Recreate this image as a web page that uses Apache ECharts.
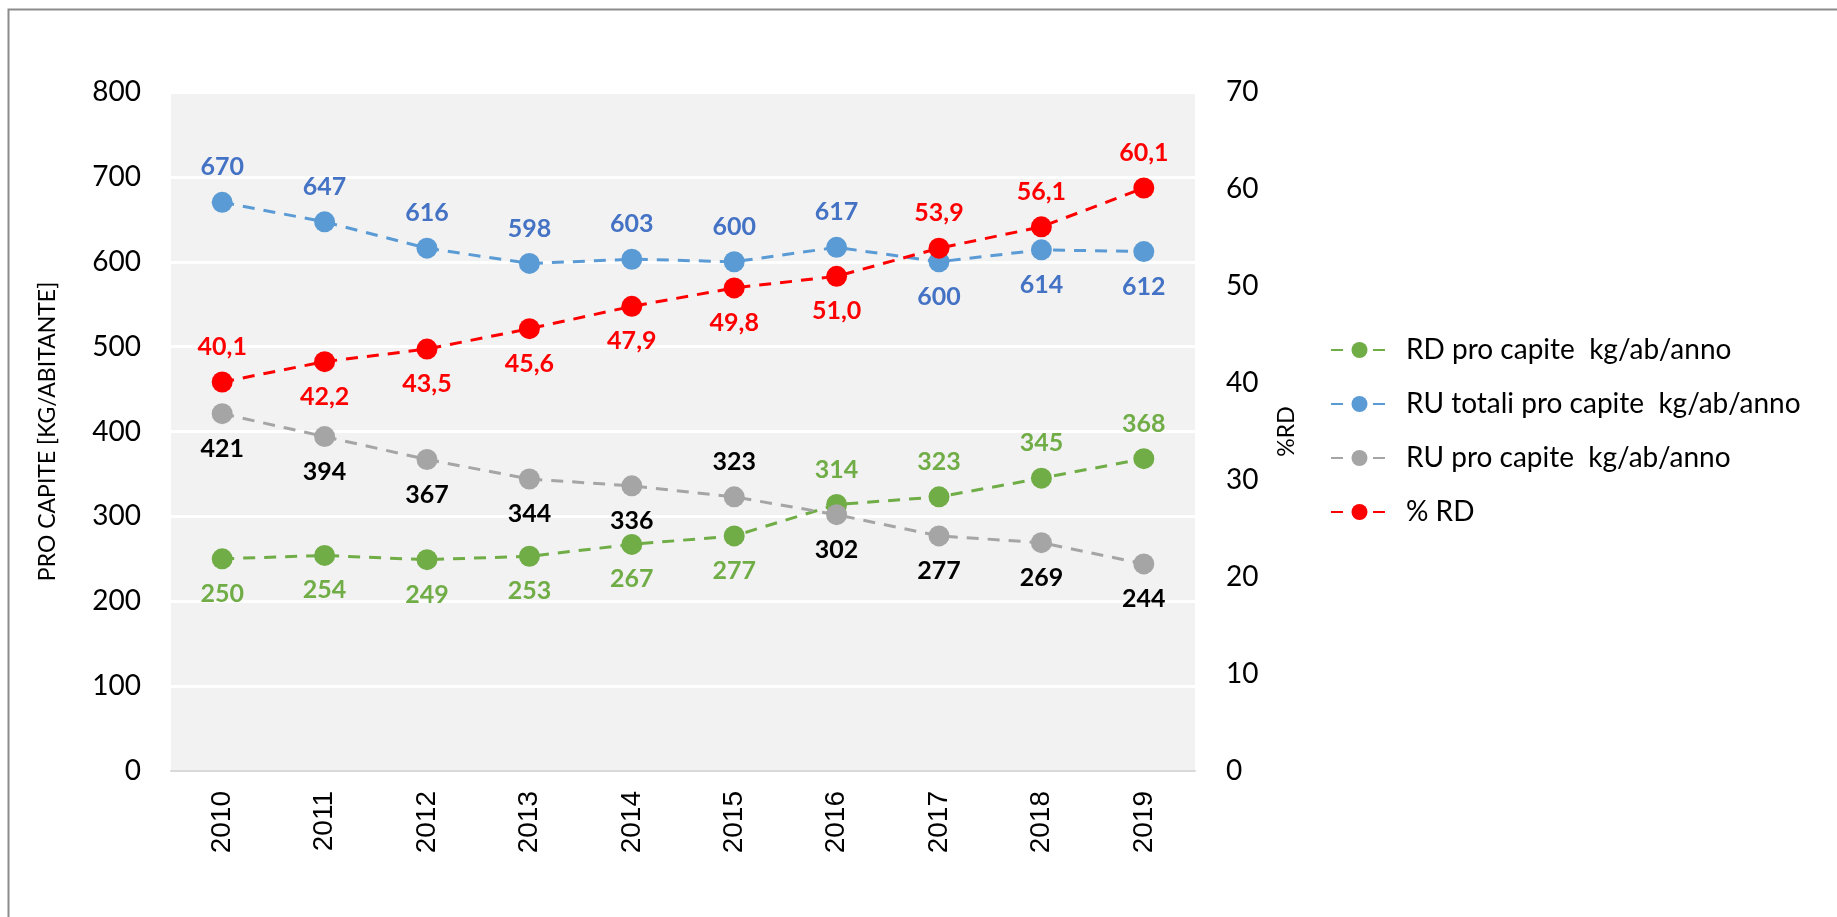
<!DOCTYPE html>
<html><head><meta charset="utf-8">
<script src="https://cdn.jsdelivr.net/npm/echarts@6/dist/echarts.min.js"></script>
<style>html,body{margin:0;padding:0;background:#fff}#c{width:1837px;height:917px}</style>
</head><body><div id="c"></div>
<script>
const years = ['2010','2011','2012','2013','2014','2015','2016','2017','2018','2019'];
const rdProCapite = [250,254,249,253,267,277,314,323,345,368];
const ruTotali = [670,647,616,598,603,600,617,600,614,612];
const ruProCapite = [421,394,367,344,336,323,302,277,269,244];
const percRD = [40.1,42.2,43.5,45.6,47.9,49.8,51.0,53.9,56.1,60.1];
const seriesNames = ['RD pro capite  kg/ab/anno','RU totali pro capite  kg/ab/anno','RU pro capite  kg/ab/anno','% RD'];
const leftTicks = [0,800,100];
const rightTicks = [0,70,10];

// label placement (style only)
const posRD = ['bottom','bottom','bottom','bottom','bottom','bottom','top','top','top','top'];
const posRUT = ['top','top','top','top','top','top','top','bottom','bottom','bottom'];
const posRUP = ['bottom','bottom','bottom','bottom','bottom','top','bottom','bottom','bottom','bottom'];
const posPerc = ['top','bottom','bottom','bottom','bottom','bottom','bottom','top','top','top'];

const FONT = 'Lato';
function withPos(vals, pos){ return vals.map((v,i)=>({value:v,label:{position:pos[i]}})); }
function mk(name, vals, pos, color, labelColor, yIdx, fmt){
  return {
    name, type:'line', yAxisIndex:yIdx, data:withPos(vals,pos),
    symbol:'circle', symbolSize:21,
    itemStyle:{color},
    lineStyle:{color, width:3, type:[12,9]},
    label:{show:true, distance:12, color:labelColor, fontFamily:FONT, fontWeight:'bold', fontSize:25,
      formatter: p => fmt ? fmt(p.value) : String(p.value)},
    emphasis:{disabled:true}, animation:false, z:3
  };
}
const chart = echarts.init(document.getElementById('c'));
chart.setOption({
  animation:false,
  textStyle:{fontFamily:FONT},
  graphic:[{type:'rect', shape:{x:8.5,y:9.5,width:1900,height:1000}, style:{fill:null, stroke:'#8c8c8c', lineWidth:2}, silent:true, z:-10}],
  grid:{left:171, top:92, right:642, bottom:146, show:true, backgroundColor:'#f2f2f2', borderWidth:0},
  legend:{orient:'vertical', left:1325, top:331, itemWidth:57, itemHeight:20, itemGap:26,
    textStyle:{fontFamily:FONT, fontSize:28, lineHeight:28, color:'#000', padding:[0,0,0,13]}, data:seriesNames},
  xAxis:{type:'category', data:years, boundaryGap:true,
    axisLine:{lineStyle:{color:'#d9d9d9', width:2}}, axisTick:{show:false},
    axisLabel:{rotate:90, margin:20, color:'#000', fontSize:28, fontFamily:'Liberation Sans'}},
  yAxis:[
    {type:'value', min:leftTicks[0], max:leftTicks[1], interval:leftTicks[2], position:'left',
     name:'PRO CAPITE [KG/ABITANTE]', nameLocation:'middle', nameGap:112, nameRotate:90,
     nameTextStyle:{fontSize:23, color:'#000', fontFamily:FONT},
     axisLine:{show:false}, axisTick:{show:false},
     axisLabel:{margin:30, color:'#000', fontSize:28, fontFamily:FONT},
     splitLine:{lineStyle:{color:'#ffffff', width:3}}},
    {type:'value', min:rightTicks[0], max:rightTicks[1], interval:rightTicks[2], position:'right',
     name:'%RD', nameLocation:'middle', nameGap:80, nameRotate:90,
     nameTextStyle:{fontSize:23, color:'#000', fontFamily:FONT},
     axisLine:{show:false}, axisTick:{show:false},
     axisLabel:{margin:31, color:'#000', fontSize:28, fontFamily:FONT},
     splitLine:{show:false}}
  ],
  series:[
    mk(seriesNames[0], rdProCapite, posRD, '#70ad47', '#70ad47', 0),
    mk(seriesNames[1], ruTotali, posRUT, '#5b9bd5', '#4472c4', 0),
    mk(seriesNames[2], ruProCapite, posRUP, '#a5a5a5', '#000000', 0),
    mk(seriesNames[3], percRD, posPerc, '#ff0000', '#ff0000', 1, v => v.toFixed(1).replace('.', ','))
  ]
});
</script></body></html>
